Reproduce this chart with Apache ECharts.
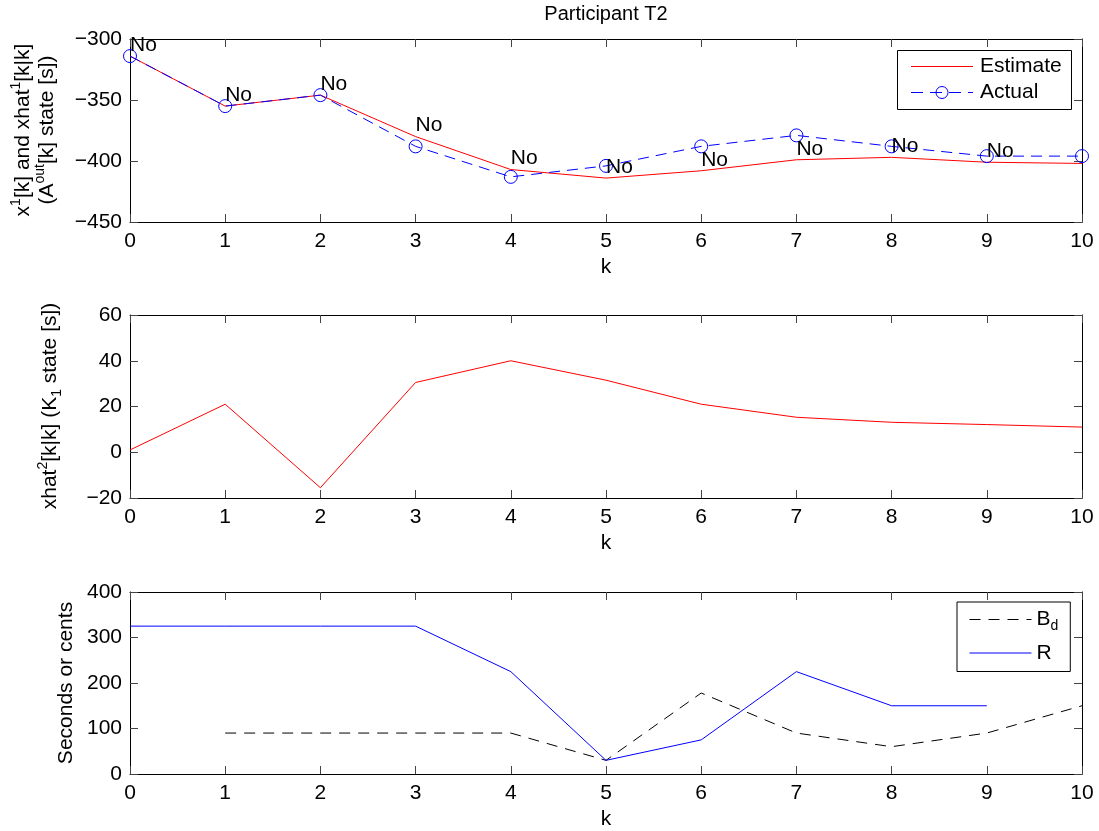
<!DOCTYPE html>
<html>
<head>
<meta charset="utf-8">
<script src="https://cdn.jsdelivr.net/npm/echarts@6/dist/echarts.min.js"></script>
<style>
html, body { margin: 0; padding: 0; background: #fff; }
#chart { width: 1099px; height: 831px; }
</style>
</head>
<body>
<div id="chart"></div>
<script>
// Time steps k
const steps = [0, 1, 2, 3, 4, 5, 6, 7, 8, 9, 10];

// Panel 1: A_out state, estimate vs. actual
const estimate = [-314, -355, -346, -380, -407, -414, -408, -399, -397, -401, -402];
const actual   = [-314, -355, -346, -388, -413, -404, -388, -379, -388, -396, -396];
const stepNotes = ['No', 'No', 'No', 'No', 'No', 'No', 'No', 'No', 'No', 'No'];

// Panel 2: K1 state estimate
const kState = [1, 21, -15.5, 30.5, 40, 31.5, 21, 15.3, 13.1, 12.1, 11];

// Panel 3: B_d and R (null = not defined at that step)
const bd = [null, 90, 90, 90, 90, 30, 178, 90, 60, 90, 150];
const rVals = [325, 325, 325, 325, 225, 30, 75, 225, 150, 150, null];

// Axis ranges / ticks
const xTicks = { min: 0, max: 10, interval: 1 };
const yRanges = [
  { min: -450, max: -300, interval: 50 },
  { min: -20, max: 60, interval: 20 },
  { min: 0, max: 400, interval: 100 }
];

const FAMILY = '"Liberation Sans", Arial, Helvetica, sans-serif';
const FS = 21;
const font = (size) => size + 'px ' + FAMILY;
const pairs = (vals) => steps.map((k, i) => [k, vals[i]]);
const minusFmt = (v) => String(v).replace('-', '\u2212');

const grids = [
  { left: 130, top: 39, width: 952, height: 183 },
  { left: 130, top: 315, width: 952, height: 183 },
  { left: 130, top: 592, width: 952, height: 182 }
];

const baseLine = { show: true, onZero: false, lineStyle: { color: '#000', width: 1 } };
const baseTick = { show: true, inside: true, length: 8, lineStyle: { color: '#444', width: 1 } };

const xAxes = [];
const yAxes = [];
grids.forEach((g, i) => {
  xAxes.push({
    type: 'value', gridIndex: i, position: 'bottom', ...xTicks,
    axisLine: baseLine, axisTick: baseTick, splitLine: { show: false },
    axisLabel: { fontSize: FS, color: '#000', margin: 9, fontFamily: FAMILY },
    name: 'k', nameLocation: 'middle', nameGap: 35,
    nameTextStyle: { fontSize: FS, color: '#000', fontFamily: FAMILY }
  });
  xAxes.push({
    type: 'value', gridIndex: i, position: 'top', ...xTicks,
    axisLine: baseLine, axisTick: baseTick, splitLine: { show: false },
    axisLabel: { show: false }
  });
  yAxes.push({
    type: 'value', gridIndex: i, position: 'left', ...yRanges[i],
    axisLine: baseLine, axisTick: baseTick, splitLine: { show: false },
    axisLabel: { fontSize: FS, color: '#000', margin: 8, fontFamily: FAMILY, formatter: minusFmt }
  });
  yAxes.push({
    type: 'value', gridIndex: i, position: 'right', ...yRanges[i],
    axisLine: baseLine, axisTick: baseTick, splitLine: { show: false },
    axisLabel: { show: false }
  });
});

// Rich text pieces for labels with super/subscripts
const richText = {
  n: { font: font(FS), fontSize: FS, fontFamily: FAMILY, fill: '#000', color: '#000', lineHeight: 28 },
  sup: { font: font(14), fontSize: 14, fontFamily: FAMILY, fill: '#000', color: '#000', verticalAlign: 'top' },
  sub: { font: font(14), fontSize: 14, fontFamily: FAMILY, fill: '#000', color: '#000', verticalAlign: 'bottom' }
};

const vText = (x, y, text) => ({
  type: 'text', x: x, y: y, rotation: Math.PI / 2,
  style: { text: text, rich: richText, font: font(FS), align: 'center', verticalAlign: 'middle', fill: '#000' }
});

// Key box for the top panel (Estimate / Actual)
const keyBox = [
  { type: 'rect', z: 10, shape: { x: 897.5, y: 50.5, width: 174, height: 59 },
    style: { fill: '#fff', stroke: '#000', lineWidth: 1 } },
  { type: 'line', z: 11, shape: { x1: 911, y1: 66.5, x2: 973, y2: 66.5 },
    style: { stroke: '#ff0000', lineWidth: 1 } },
  { type: 'text', z: 11, x: 980, y: 66,
    style: { text: 'Estimate', font: font(FS), fill: '#000', align: 'left', verticalAlign: 'middle' } },
  { type: 'line', z: 11, shape: { x1: 911, y1: 92.5, x2: 973, y2: 92.5 },
    style: { stroke: '#0000ff', lineWidth: 1, lineDash: [12, 7] } },
  { type: 'circle', z: 11, shape: { cx: 942, cy: 92.5, r: 6 },
    style: { fill: 'none', stroke: '#0000ff', lineWidth: 1 } },
  { type: 'text', z: 11, x: 980, y: 92,
    style: { text: 'Actual', font: font(FS), fill: '#000', align: 'left', verticalAlign: 'middle' } }
];

const option = {
  animation: false,
  backgroundColor: '#fff',
  grid: grids,
  xAxis: xAxes,
  yAxis: yAxes,
  legend: [
    {
      data: [
        { name: 'Bd', itemStyle: { color: 'rgba(0,0,0,0)', borderWidth: 0, opacity: 0 }, lineStyle: { color: '#000', width: 1 } },
        { name: 'R', itemStyle: { color: 'rgba(0,0,0,0)', borderWidth: 0, opacity: 0 }, lineStyle: { color: '#0000ff', width: 1 } }
      ],
      orient: 'vertical', left: 957, top: 602,
      backgroundColor: '#fff', borderColor: '#000', borderWidth: 1,
      padding: [7, 12, 8, 12], itemWidth: 62, itemHeight: 14, itemGap: 9,
      lineStyle: { width: 1 },
      formatter: (name) => name === 'Bd' ? '{n|B}{sub|d}' : '{n|R}',
      textStyle: { fontSize: FS, color: '#000', fontFamily: FAMILY, rich: richText }
    }
  ],
  graphic: [
    {
      type: 'text', x: 606, y: 14,
      style: { text: 'Participant T2', font: font(20), fill: '#000', align: 'center', verticalAlign: 'middle' }
    },
    vText(23, 130, '{n|x}{sup|1}{n|[k] and xhat}{sup|1}{n|[k|k]}'),
    vText(47, 130, '{n|(A}{sup|out}{n|[k] state [s])}'),
    vText(50, 406, '{n|xhat}{sup|2}{n|[k|k] (K}{sub|1}{n| state [s])}'),
    vText(66, 683, '{n|Seconds or cents}'),
    ...keyBox
  ],
  series: [
    {
      name: 'Estimate', type: 'line', xAxisIndex: 0, yAxisIndex: 0,
      data: pairs(estimate), symbol: 'none',
      lineStyle: { color: '#ff0000', width: 1 }, itemStyle: { color: '#ff0000' }
    },
    {
      name: 'Actual', type: 'line', xAxisIndex: 0, yAxisIndex: 0,
      data: pairs(actual), symbol: 'circle', symbolSize: 13,
      lineStyle: { color: '#0000ff', width: 1, type: [11, 7] },
      itemStyle: { color: 'rgba(0,0,0,0)', borderColor: '#0000ff', borderWidth: 1 }
    },
    {
      name: 'stepNotes', type: 'scatter', xAxisIndex: 0, yAxisIndex: 0,
      data: stepNotes.map((t, i) => [steps[i], estimate[i]]),
      symbolSize: 0, itemStyle: { color: 'rgba(0,0,0,0)' }, z: 5,
      label: {
        show: true, position: 'right', distance: 0, offset: [0, -11],
        formatter: (p) => stepNotes[p.dataIndex],
        fontSize: FS, color: '#000', fontFamily: FAMILY, opacity: 1
      }
    },
    {
      name: 'K1', type: 'line', xAxisIndex: 2, yAxisIndex: 2,
      data: pairs(kState), symbol: 'none',
      lineStyle: { color: '#ff0000', width: 1 }
    },
    {
      name: 'Bd', type: 'line', xAxisIndex: 4, yAxisIndex: 4,
      data: pairs(bd), symbol: 'none',
      lineStyle: { color: '#000', width: 1, type: [11, 8] }, itemStyle: { color: '#000' }
    },
    {
      name: 'R', type: 'line', xAxisIndex: 4, yAxisIndex: 4,
      data: pairs(rVals), symbol: 'none',
      lineStyle: { color: '#0000ff', width: 1 }, itemStyle: { color: '#0000ff' }
    }
  ]
};

const chart = echarts.init(document.getElementById('chart'), null, { renderer: 'canvas' });
chart.setOption(option);
</script>
</body>
</html>
